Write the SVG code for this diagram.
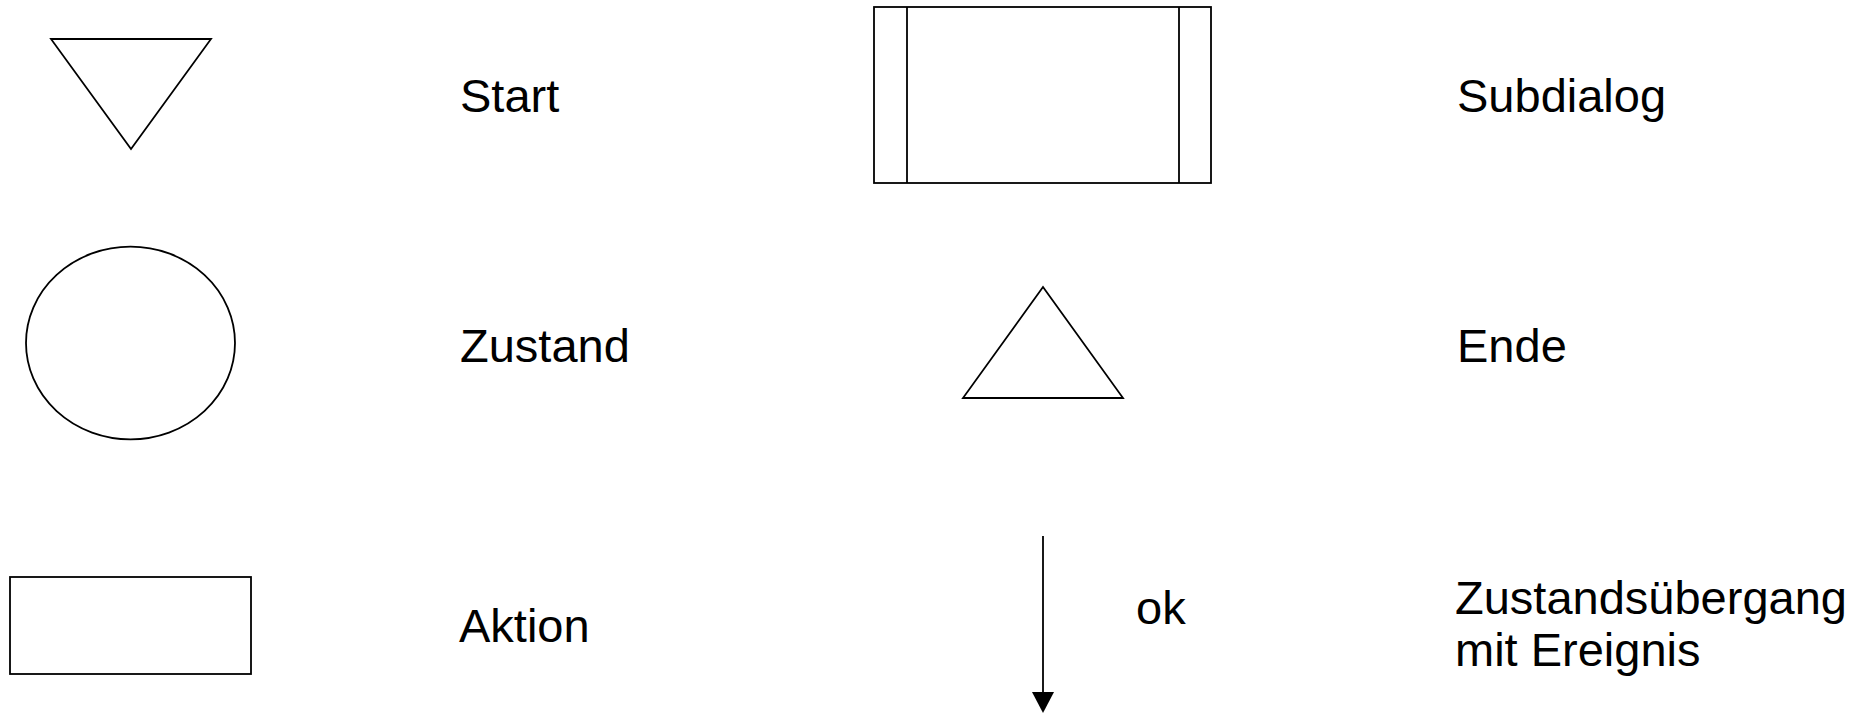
<svg xmlns="http://www.w3.org/2000/svg" width="1869" height="713" viewBox="0 0 1869 713">
<style>
.s{fill:none;stroke:#000;stroke-width:1.8}
.t{font-family:"Liberation Sans",Arial,sans-serif;font-size:47px;fill:#000}
</style>
<rect width="1869" height="713" fill="#fff"/>
<g id="start"><polygon class="s" points="51,39 211,39 131,149"/></g>
<g id="zustand"><ellipse class="s" cx="130.5" cy="343" rx="104.5" ry="96.3"/></g>
<g id="aktion"><rect class="s" x="10" y="577" width="241" height="97"/></g>
<g id="subdialog"><rect class="s" x="874" y="7" width="337" height="176"/><line class="s" x1="907" y1="7" x2="907" y2="183"/><line class="s" x1="1179" y1="7" x2="1179" y2="183"/></g>
<g id="ende"><polygon class="s" points="1043,287 1123,398 963,398"/></g>
<g id="connectors"><line class="s" x1="1043" y1="536" x2="1043" y2="692"/><polygon points="1032,692 1054,692 1043,713" fill="#000"/></g>
<g id="labels">
<text class="t" x="460" y="112">Start</text>
<text class="t" x="460" y="362">Zustand</text>
<text class="t" x="459" y="642">Aktion</text>
<text class="t" x="1457" y="112">Subdialog</text>
<text class="t" x="1457" y="362">Ende</text>
<text class="t" x="1136" y="624">ok</text>
<text class="t" x="1455" y="614">Zustandsübergang</text>
<text class="t" x="1455" y="666">mit Ereignis</text>
</g>
</svg>
